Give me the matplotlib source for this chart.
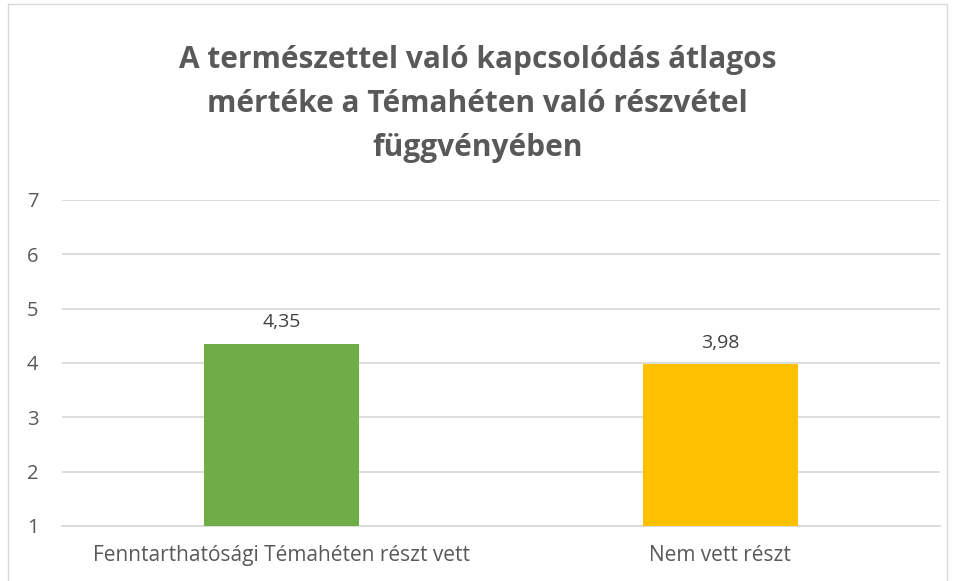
import matplotlib.pyplot as plt
from matplotlib.patches import Rectangle

categories = ["Fenntarthatósági Témahéten részt vett", "Nem vett részt"]
values = [4.35, 3.98]
value_labels = ["4,35", "3,98"]
colors = ["#70ad47", "#ffc000"]
y_ticks = [1, 2, 3, 4, 5, 6, 7]

plt.rcParams['font.family'] = ['Open Sans', 'DejaVu Sans']
grey = "#595959"

fig = plt.figure(figsize=(9.55, 5.81), dpi=100)
ax = fig.add_axes([0.0649, 0.0947, 0.9193, 0.5611])

x = range(len(categories))
base = y_ticks[0]
bars = ax.bar(x, [v - base for v in values], bottom=base, width=0.355,
              color=colors, zorder=3)
for i, v in enumerate(values):
    ax.annotate(value_labels[i], (i, v), xytext=(0, 9), textcoords="offset points",
                ha="center", va="bottom", fontsize=14, color="#404040")

ax.set_xlim(-0.5, 1.5)
ax.set_ylim(1, 7)
ax.set_yticks(y_ticks)
ax.set_xticks(list(x))
ax.set_xticklabels(categories)
ax.grid(axis="y", color="#d9d9d9", linewidth=1.3, zorder=0)
for s in ["top", "right", "left"]:
    ax.spines[s].set_visible(False)
ax.spines["bottom"].set_color("#d9d9d9")
ax.spines["bottom"].set_linewidth(1.3)
ax.tick_params(axis="both", length=0, labelsize=14.5, labelcolor=grey)
ax.tick_params(axis="x", labelsize=15, pad=14)
ax.tick_params(axis="y", pad=17)

fig.text(0.5, 0.821, "A természettel való kapcsolódás átlagos\nmértéke a Témahéten való részvétel\nfüggvényében",
         ha="center", va="center", fontsize=21.5, fontweight="bold", color=grey,
         linespacing=1.6)

fig.patches.append(Rectangle((0.008, -0.05), 0.984, 1.043, transform=fig.transFigure,
                             fill=False, edgecolor="#d9d9d9", linewidth=1))

fig.savefig("out.png", dpi=100)
